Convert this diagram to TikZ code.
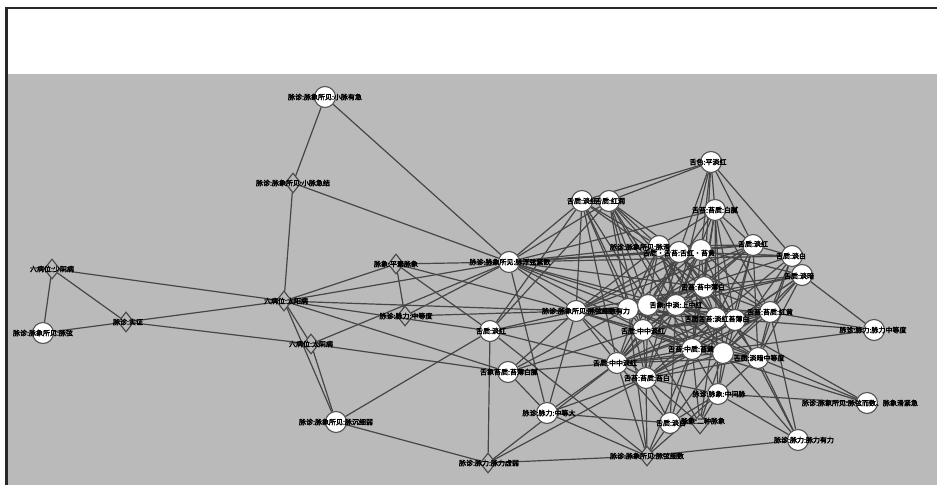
\documentclass[tikz,border=0pt]{standalone}
\usepackage{fontspec}
\newfontfamily\cjk[FakeBold=3]{Noto Sans CJK SC}
\usetikzlibrary{shapes.geometric}
\definecolor{bggray}{RGB}{186,186,186}
\definecolor{edgegray}{RGB}{70,70,70}
\definecolor{rimgray}{RGB}{85,85,85}
\definecolor{framec}{RGB}{40,40,40}
\pgfdeclarelayer{bgl}
\pgfdeclarelayer{edgel}
\pgfsetlayers{bgl,edgel,main}
\tikzset{
  circ/.style={circle,draw=rimgray,line width=1.1pt,fill=white,minimum size=21pt,inner sep=0pt},
  dia/.style={diamond,draw=edgegray,line width=1.1pt,minimum width=16pt,minimum height=20pt,inner sep=0pt},
  lbl/.style={font=\cjk\fontsize{7}{7}\selectfont,text=black,inner sep=0pt},
  edge/.style={draw=edgegray,line width=1.2pt}
}
\begin{document}
\begin{tikzpicture}[x=1pt,y=-1pt]
\useasboundingbox (0,0) rectangle (937,485);
\begin{pgfonlayer}{bgl}
\fill[white] (0,0) rectangle (937,485);
\fill[bggray] (7,74) rectangle (937,485);
\draw[framec,line width=2.5pt] (5,8) -- (937,8);
\draw[framec,line width=3pt] (6.5,7) -- (6.5,485);
\end{pgfonlayer}
% peripheral nodes
\node[circ] (c1) at (325,97) {};
\node[dia] (d1) at (293,183) {};
\node[dia] (d2) at (52,269) {};
\node[circ] (c2) at (43,333) {};
\node[dia] (d3) at (126,322) {};
\node[dia] (d4) at (284,301) {};
\node[dia] (d5) at (311,344) {};
\node[circ] (c3) at (336,422) {};
\node[dia] (d6) at (396,264) {};
\node[dia] (d7) at (405,316) {};
\node[circ] (c4) at (509,262) {};
\node[circ] (c5) at (490,331) {};
\node[circ] (c6) at (508,372) {};
\node[dia] (d8) at (488,463) {};
\node[circ] (c7) at (547,413) {};
\node[dia] (d9) at (647,456) {};
\node[circ] (c8) at (798,440) {};
\node[circ] (c9) at (867,403) {};
\node[circ] (r1) at (874,330) {};
\node[dia] (d10) at (700,424) {};
\node[circ] (c11) at (670,423) {};
\node[circ] (c12) at (718,394) {};
\node[circ] (c13) at (711,162) {};
\node[circ] (c14) at (582,201) {};
\node[circ] (c15) at (609,201) {};
\node[circ] (c16) at (715,210) {};
% cluster
\node[circ] (t1) at (659,246) {};
\node[circ] (t2) at (679,252) {};
\node[circ] (t3) at (701,250) {};
\node[circ] (t4) at (753,245) {};
\node[circ] (t5) at (792,256) {};
\node[circ] (t6) at (802,275) {};
\node[circ] (t7) at (704,287) {};
\node[circ] (m1) at (576,311) {};
\node[circ] (m2) at (628,309) {};
\node[circ] (m3) at (648,305) {};
\node[circ] (m4) at (676,305) {};
\node[circ] (m5) at (716,318) {};
\node[circ] (m6) at (735,320) {};
\node[circ] (m7) at (770,312) {};
\node[circ] (l1) at (643,330) {};
\node[circ] (l2) at (692,349) {};
\node[circ] (l3) at (723,353) {};
\node[circ] (l4) at (758,358) {};
\node[circ] (l5) at (617,363) {};
\node[circ] (l6) at (646,378) {};
% edges
\begin{pgfonlayer}{edgel}
\foreach \a/\b in {c1/d1,c1/c4,d1/c4,d1/d4,d2/c2,d2/d3,d2/d4,c2/d3,d3/d4,d3/d5,
  d4/d5,d4/c3,d5/c3,d4/c4,d4/d6,d4/m1,d4/c5,d4/c6,d5/c4,d5/c6,
  d6/d7,d6/c4,d6/m1,d6/c5,d7/c4,d7/m1,c3/c5,c3/d8,
  c4/c14,c4/c15,c4/c16,c4/t1,c4/t2,c4/t3,c4/t4,c4/t5,c4/m1,c4/m2,c4/m3,c4/l1,c4/c7,c4/t7,c4/m5,
  c5/c14,c5/c15,c5/m1,c5/d8,c5/d9,c5/m2,c5/l5,
  c6/m1,c6/m2,c6/l5,c6/l1,c6/c7,
  c7/c11,c7/d9,c7/l5,c7/l6,c7/m1,
  d8/d9,d8/l5,d8/l6,
  d9/c8,d9/l6,d9/c11,d9/c12,d9/l5,d9/l2,d9/m2,
  c11/d10,c11/l6,c11/l5,c11/l2,c11/l3,c11/m4,c11/c12,
  d10/c12,d10/l6,d10/l2,d10/l3,d10/m5,d10/l1,
  c12/l2,c12/l3,c12/l4,c12/m6,c12/m5,c12/l6,c12/c8,c12/c9,
  c8/l4,c8/m7,c8/l3,c8/m6,
  c9/l4,c9/m5,c9/l2,
  r1/t6,r1/m7,r1/m5,r1/l5,
  t6/t5,t6/m7,t6/m6,t6/l4,t6/l3,t6/m4,t6/l2,
  t5/c13,t5/t4,t5/m5,t5/m7,t5/l4,t5/l3,t5/t2,
  c13/c14,c13/c15,c13/t2,c13/t3,c13/c16,c13/t4,c13/t7,c13/m4,
  c16/t1,c16/m3,c16/m4,c16/m5,c16/m6,c16/t4,c16/t7,c16/l2,c16/l3,c16/m7,
  c14/c15,c14/m1,c14/m2,c14/l1,c14/t1,c14/t7,c14/m3,c14/l5,
  c15/t1,c15/t2,c15/m2,c15/m3,c15/m4,c15/l1,c15/l2,c15/m5,
  t1/t2,t1/t3,t1/m1,t1/m2,t1/m4,t1/m5,t1/l1,t1/l2,t1/l3,t1/l5,t1/t4,t1/m7,
  t2/t3,t2/m1,t2/m3,t2/m5,t2/m6,t2/l1,t2/l4,t2/l6,t2/t5,
  t3/t4,t3/t7,t3/m2,t3/m4,t3/m6,t3/m7,t3/l2,t3/l5,t3/t6,t3/m1,
  t4/t7,t4/m3,t4/m5,t4/m6,t4/l1,t4/l3,t4/l4,t4/m1,
  t7/m2,t7/m3,t7/m5,t7/m6,t7/l1,t7/l2,t7/l4,t7/l5,t7/m7,t7/t6,t7/m1,
  m1/m2,m1/m3,m1/l1,m1/l2,m1/l5,m1/l6,m1/m5,m1/m7,m1/l3,
  m2/m3,m2/l1,m2/l3,m2/l4,m2/l6,m2/m6,m2/t5,
  m3/m4,m3/l2,m3/l5,m3/l4,m3/m7,m3/l6,m3/t6,
  m4/m5,m4/l1,m4/l3,m4/l5,m4/l6,m4/m6,m4/l4,
  m5/m6,m5/l1,m5/l2,m5/l5,m5/m7,m5/l6,
  m6/m7,m6/l1,m6/l2,m6/l5,m6/l6,
  m7/l1,m7/l2,m7/l3,m7/l5,m7/l6,m7/l4,
  l1/l2,l1/l3,l1/l4,l1/l5,l1/l6,l2/l3,l2/l4,l2/l5,l2/l6,
  l3/l4,l3/l5,l3/l6,l4/l5,l4/l6,l5/l6}
  \draw[edge] (\a) -- (\b);
\end{pgfonlayer}
% labels
\node[lbl] (c1t) at (325,97) {脉诊:脉象所见:小脉有急};
\node[lbl] (d1t) at (293,183) {脉诊:脉象所见:小脉急结};
\node[lbl] (d2t) at (52,269) {六病位:少阴病};
\node[lbl] (c2t) at (43,333) {脉诊:脉象所见:脉弦};
\node[lbl] (d3t) at (128,322) {脉诊:实证};
\node[lbl] (d4t) at (286,301) {六病位:太阳病};
\node[lbl] (d5t) at (311,344) {六病位:太阴病};
\node[lbl] (c3t) at (336,422) {脉诊:脉象所见:脉沉细弱};
\node[lbl] (d6t) at (396,264) {脉象:平素脉象};
\node[lbl] (d7t) at (406,316) {脉诊:脉力:中等度};
\node[lbl] (c4t) at (510,262) {脉诊:脉象所见:脉浮弦紧数};
\node[lbl] (c5t) at (491,331) {舌质:淡红};
\node[lbl] (c6t) at (509,372) {舌象苔质:苔薄白腻};
\node[lbl] (d8t) at (489,463) {脉诊:脉力:脉力虚弱};
\node[lbl] (c7t) at (549,413) {脉诊:脉力:中等大};
\node[lbl] (d9t) at (647,456) {脉诊:脉象所见:脉弦细数};
\node[lbl] (c8t) at (804,440) {脉诊:脉力:脉力有力};
\node[lbl] (c9t) at (860,403) {脉诊:脉象所见:脉弦而数、脉象滑紧急};
\node[lbl] (r1t) at (873,330) {脉诊:脉力:脉力中等度};
\node[lbl] (c11t) at (671,423) {舌质:淡白};
\node[lbl] (d10t) at (703,421) {脉象:二种脉象};
\node[lbl] (c12t) at (719,394) {脉诊:脉象:中间脉};
\node[lbl] (c13t) at (708,162) {舌色:平淡红};
\node[lbl] (c14t) at (582,201) {舌质:淡红};
\node[lbl] (c15t) at (610,201) {舌质:红润};
\node[lbl] (c16t) at (715,210) {舌苔:苔质:白腻};
\node[lbl] (t1t) at (640,247) {脉诊:脉象所见:脉滑};
\node[lbl] (t2t) at (679,253) {舌质·舌苔:舌红·苔黄};
\node[lbl] (t4t) at (753,244) {舌质:淡红};
\node[lbl] (t5t) at (791,256) {舌质:淡白};
\node[lbl] (t6t) at (799,276) {舌质:淡暗};
\node[lbl] (t7t) at (703,287) {舌苔:苔中薄白};
\node[lbl] (m1t) at (586,311) {脉诊:脉象所见:脉弦细数有力};
\node[lbl] (m4t) at (676,305) {舌象:中淡:上中红};
\node[lbl] (m5t) at (717,319) {舌质舌苔:淡红苔薄白};
\node[lbl] (m7t) at (770,312) {舌苔:苔质:红黄};
\node[lbl] (l1t) at (643,331) {舌质:中中淡红};
\node[lbl] (l2t) at (691,349) {舌苔:中质:苔黄};
\node[lbl] (l4t) at (759,358) {舌质:淡暗中等度};
\node[lbl] (l5t) at (615,363) {舌质:中中淡红};
\node[lbl] (l6t) at (647,378) {舌苔:苔质:苔白};
\end{tikzpicture}
\end{document}
